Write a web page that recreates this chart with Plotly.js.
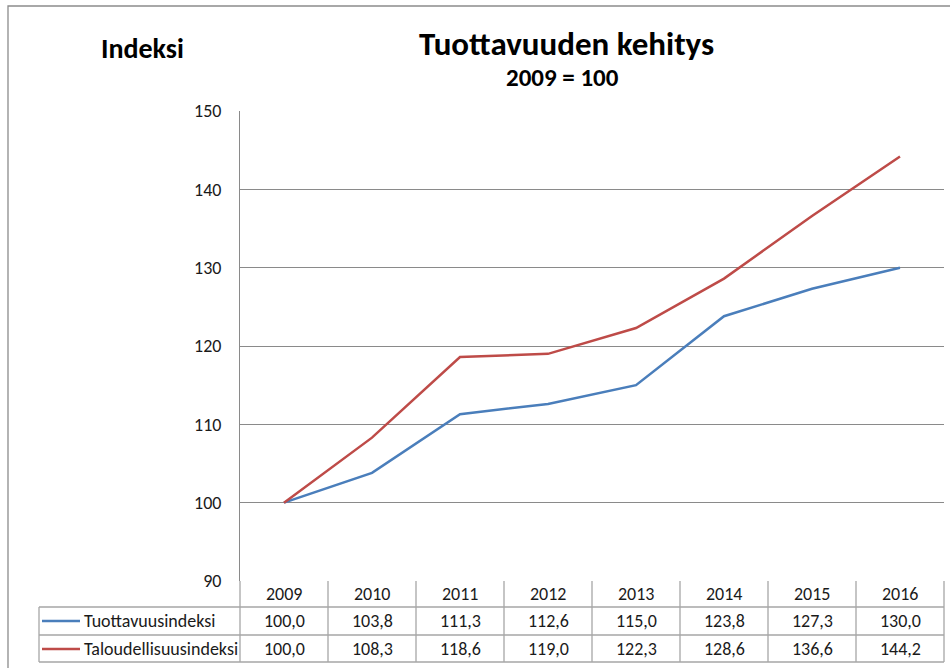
<!DOCTYPE html>
<html>
<head>
<meta charset="utf-8">
<script src="https://cdn.plot.ly/plotly-3.0.1.min.js"></script>
<style>html,body{margin:0;padding:0;background:#fff;}#chart{width:950px;height:668px;}</style>
</head>
<body>
<div id="chart"></div>
<script>
// ---- data ----
var years = [2009, 2010, 2011, 2012, 2013, 2014, 2015, 2016];
var tuottavuus = [100.0, 103.8, 111.3, 112.6, 115.0, 123.8, 127.3, 130.0];
var taloudellisuus = [100.0, 108.3, 118.6, 119.0, 122.3, 128.6, 136.6, 144.2];
var seriesNames = ["Tuottavuusindeksi", "Taloudellisuusindeksi"];
var yTicks = [90, 100, 110, 120, 130, 140, 150];

// ---- layout geometry ----
var W = 950, H = 668;
var L = 240, R = 944, T = 111, B = 581;
var PW = R - L, PH = B - T;
function px(x) { return (x - L) / PW; }
function py(y) { return (B - y) / PH; }

var FONT = "Carlito, 'Liberation Sans Narrow', 'Arial Narrow', 'Liberation Sans', sans-serif";
var blue = "#4A7EBB", red = "#BE4B48";
var tableLine = "#a6a6a6";

var traces = [
  {x: years, y: tuottavuus, type: "scatter", mode: "lines", name: seriesNames[0],
   line: {color: blue, width: 2.5}, hoverinfo: "x+y"},
  {x: years, y: taloudellisuus, type: "scatter", mode: "lines", name: seriesNames[1],
   line: {color: red, width: 2.5}, hoverinfo: "x+y"}
];

var shapes = [];
var annotations = [];

// outer frame
shapes.push({type: "rect", xref: "paper", yref: "paper", x0: px(8), x1: px(990), y0: py(6), y1: py(720),
  line: {color: "#8c8c8c", width: 1.3}, fillcolor: "rgba(0,0,0,0)", layer: "below"});

// table vertical lines at category boundaries
var n = years.length;
for (var k = 0; k <= n; k++) {
  shapes.push({type: "line", xref: "paper", yref: "paper", x0: k / n, x1: k / n, y0: py(581), y1: py(662),
    line: {color: tableLine, width: 1.3}});
}
// left column borders
shapes.push({type: "line", xref: "paper", yref: "paper", x0: px(39), x1: px(39), y0: py(607), y1: py(662),
  line: {color: tableLine, width: 1.3}});
[607, 635, 662].forEach(function (yy) {
  shapes.push({type: "line", xref: "paper", yref: "paper", x0: px(39), x1: 1, y0: py(yy), y1: py(yy),
    line: {color: tableLine, width: 1.3}});
});
// legend keys
shapes.push({type: "line", xref: "paper", yref: "paper", x0: px(42), x1: px(80), y0: py(621), y1: py(621),
  line: {color: blue, width: 2.5}});
shapes.push({type: "line", xref: "paper", yref: "paper", x0: px(42), x1: px(80), y0: py(649), y1: py(649),
  line: {color: red, width: 2.5}});

function fmt(v) { return v.toFixed(1).replace(".", ","); }
var tableFont = {family: FONT, size: 18, color: "#1a1a1a"};
years.forEach(function (yr, i) {
  annotations.push({x: yr, xref: "x", y: py(594), yref: "paper", text: String(yr), showarrow: false,
    xanchor: "center", yanchor: "middle", font: tableFont});
  annotations.push({x: yr, xref: "x", y: py(621), yref: "paper", text: fmt(tuottavuus[i]), showarrow: false,
    xanchor: "center", yanchor: "middle", font: tableFont});
  annotations.push({x: yr, xref: "x", y: py(649), yref: "paper", text: fmt(taloudellisuus[i]), showarrow: false,
    xanchor: "center", yanchor: "middle", font: tableFont});
});
annotations.push({x: px(82), xref: "paper", y: py(621), yref: "paper", text: seriesNames[0], showarrow: false,
  xanchor: "left", yanchor: "middle", font: tableFont});
annotations.push({x: px(82), xref: "paper", y: py(649), yref: "paper", text: seriesNames[1], showarrow: false,
  xanchor: "left", yanchor: "middle", font: tableFont});

// titles
annotations.push({x: px(566), xref: "paper", y: py(44), yref: "paper", text: "<b>Tuottavuuden kehitys</b>",
  showarrow: false, xanchor: "center", yanchor: "middle", font: {family: FONT, size: 33, color: "#000"}});
annotations.push({x: px(562), xref: "paper", y: py(77), yref: "paper", text: "<b>2009 = 100</b>",
  showarrow: false, xanchor: "center", yanchor: "middle", font: {family: FONT, size: 25, color: "#000"}});
annotations.push({x: px(142), xref: "paper", y: py(49), yref: "paper", text: "<b>Indeksi</b>",
  showarrow: false, xanchor: "center", yanchor: "middle", font: {family: FONT, size: 28, color: "#000"}});

var layout = {
  width: W, height: H,
  margin: {l: L, r: W - R, t: T, b: H - B, pad: 0},
  paper_bgcolor: "#fff", plot_bgcolor: "#fff",
  showlegend: false,
  xaxis: {range: [years[0] - 0.5, years[n - 1] + 0.5], showticklabels: false, showgrid: false,
    zeroline: false, showline: false, ticks: "", fixedrange: true},
  yaxis: {range: [yTicks[0], yTicks[yTicks.length - 1]], tickvals: yTicks, showgrid: true,
    gridcolor: "#8a8a8a", gridwidth: 1, zeroline: false, showline: true, linecolor: "#8a8a8a", linewidth: 1,
    ticks: "", ticklabelstandoff: 14, tickfont: {family: FONT, size: 18, color: "#1a1a1a"}, fixedrange: true},
  shapes: shapes,
  annotations: annotations
};

Plotly.newPlot("chart", traces, layout, {displayModeBar: false, staticPlot: true});
</script>
</body>
</html>
